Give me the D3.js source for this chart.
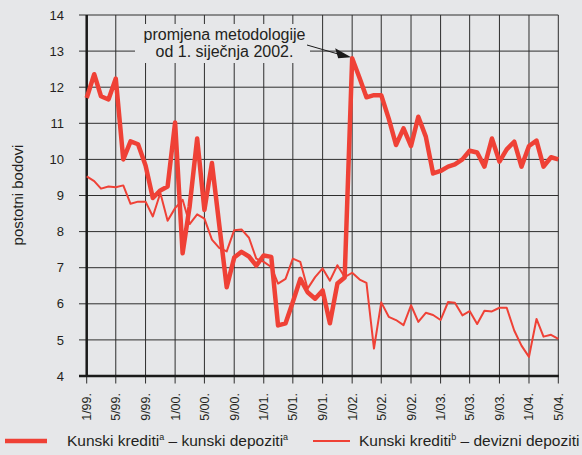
<!DOCTYPE html>
<html>
<head>
<meta charset="utf-8">
<script src="https://cdn.jsdelivr.net/npm/d3@7/dist/d3.min.js"></script>
<style>
  body { margin: 0; background: #e6e7e9; }
  svg { display: block; font-family: "Liberation Sans", Arial, sans-serif; }
</style>
</head>
<body>
<svg id="chart" width="582" height="455"></svg>
<script>
// monthly observations, 1/99 .. 5/04
var months = d3.timeMonth.range(new Date(1999, 0, 1), new Date(2004, 5, 1));

// Kunski krediti - kunski depoziti (thick line)
var kunKun = [11.7, 12.36, 11.75, 11.66, 12.24, 10.0, 10.5, 10.42, 9.83, 8.93, 9.14, 9.25,
  11.02, 7.4, 8.7, 10.58, 8.6, 9.9, 8.2, 6.46, 7.28, 7.44, 7.31, 7.06,
  7.34, 7.3, 5.4, 5.46, 6.05, 6.69, 6.32, 6.14, 6.37, 5.46, 6.56, 6.73,
  12.8, 12.25, 11.72, 11.78, 11.78, 11.13, 10.4, 10.86, 10.37, 11.18, 10.63, 9.61,
  9.68, 9.8, 9.86, 10.0, 10.24, 10.19, 9.8, 10.58, 9.94, 10.28, 10.49, 9.8,
  10.37, 10.52, 9.8, 10.06, 10.0];

// Kunski krediti - devizni depoziti (thin line)
var kunDev = [9.53, 9.4, 9.19, 9.25, 9.23, 9.28, 8.77, 8.83, 8.83, 8.42, 9.07, 8.3,
  8.65, 8.88, 8.21, 8.48, 8.36, 7.78, 7.55, 7.45, 8.04, 8.06, 7.83, 7.25,
  7.16, 7.02, 6.56, 6.69, 7.25, 7.16, 6.42, 6.74, 6.98, 6.64, 7.07, 6.74,
  6.86, 6.67, 6.58, 4.76, 6.04, 5.64, 5.55, 5.41, 5.96, 5.5, 5.75, 5.69,
  5.55, 6.05, 6.03, 5.68, 5.8, 5.44, 5.81, 5.79, 5.89, 5.89, 5.26, 4.84,
  4.53, 5.58, 5.09, 5.14, 5.03];

var xTickLabels = ["1/99.", "5/99.", "9/99.", "1/00.", "5/00.", "9/00.", "1/01.", "5/01.", "9/01.",
  "1/02.", "5/02.", "9/02.", "1/03.", "5/03.", "9/03.", "1/04.", "5/04."];
var yTicks = [4, 5, 6, 7, 8, 9, 10, 11, 12, 13, 14];

var red = "#ef4136";
var gridColor = "#2e2e2e";
var pLeft = 86.7, pRight = 558.3, pTop = 15, pBottom = 376;

var svg = d3.select("#chart");

var x = d3.scaleTime()
  .domain([months[0], months[months.length - 1]])
  .range([pLeft, pRight]);
var y = d3.scaleLinear().domain([4, 14]).range([pBottom, pTop]);

var tickDates = months.filter(function (d, i) { return i % 4 == 0; });

// horizontal grid + y ticks
svg.append("g")
  .selectAll("line")
  .data(yTicks)
  .enter()
  .append("line")
  .attr("x1", 79)
  .attr("x2", pRight)
  .attr("y1", function (d) { return y(d); })
  .attr("y2", function (d) { return y(d); })
  .attr("stroke", gridColor)
  .attr("stroke-width", 1);

// vertical grid + x ticks
svg.append("g")
  .selectAll("line")
  .data(tickDates)
  .enter()
  .append("line")
  .attr("x1", function (d) { return x(d); })
  .attr("x2", function (d) { return x(d); })
  .attr("y1", pTop)
  .attr("y2", 383.5)
  .attr("stroke", gridColor)
  .attr("stroke-width", 1);

// y labels
svg.append("g")
  .selectAll("text")
  .data(yTicks)
  .enter()
  .append("text")
  .attr("x", 64)
  .attr("y", function (d) { return y(d); })
  .attr("dy", "0.36em")
  .attr("text-anchor", "end")
  .style("font-size", "13px")
  .attr("fill", "#231f20")
  .text(function (d) { return d; });

// x labels, rotated
svg.append("g")
  .selectAll("text")
  .data(tickDates)
  .enter()
  .append("text")
  .attr("transform", function (d) { return "translate(" + x(d) + ",393) rotate(-90)"; })
  .attr("dy", "0.36em")
  .attr("text-anchor", "end")
  .style("font-size", "12.5px")
  .attr("fill", "#231f20")
  .text(function (d, i) { return xTickLabels[i]; });

// axes
svg.append("line")
  .attr("x1", pLeft).attr("x2", pLeft)
  .attr("y1", pTop).attr("y2", pBottom)
  .attr("stroke", "#1a1a1a").attr("stroke-width", 2.5);
svg.append("line")
  .attr("x1", 79).attr("x2", pRight + 0.5)
  .attr("y1", pBottom).attr("y2", pBottom)
  .attr("stroke", "#1a1a1a").attr("stroke-width", 2.5);

// y title
svg.append("text")
  .attr("transform", "translate(23,195) rotate(-90)")
  .attr("text-anchor", "middle")
  .style("font-size", "15px")
  .attr("fill", "#231f20")
  .text("postotni bodovi");

// annotation box covering grid
svg.append("rect")
  .attr("x", 135).attr("y", 24)
  .attr("width", 175).attr("height", 39)
  .attr("fill", "#e6e7e9");
svg.append("text")
  .attr("x", 224.5).attr("y", 39.5)
  .attr("text-anchor", "middle")
  .style("font-size", "16px")
  .attr("fill", "#231f20")
  .text("promjena metodologije");
svg.append("text")
  .attr("x", 224.5).attr("y", 57)
  .attr("text-anchor", "middle")
  .style("font-size", "16px")
  .attr("fill", "#231f20")
  .text("od 1. siječnja 2002.");

// arrow to 1/02 point
var ax = x(months[36]) - 1, ay = y(kunKun[36]) - 1;
svg.append("line")
  .attr("x1", 307).attr("y1", 45)
  .attr("x2", ax - 12).attr("y2", ay - 3)
  .attr("stroke", "#1a1a1a").attr("stroke-width", 1);
svg.append("path")
  .attr("d", "M" + ax + "," + ay + " L" + (ax - 16) + "," + (ay - 9) + " L" + (ax - 13) + "," + (ay + 1) + " Z")
  .attr("fill", "#1a1a1a");

// lines
var line = d3.line()
  .x(function (d, i) { return x(months[i]); })
  .y(function (d) { return y(d); });

svg.append("path")
  .attr("d", line(kunDev))
  .attr("fill", "none")
  .attr("stroke", red)
  .attr("stroke-width", 2)
  .attr("stroke-linejoin", "round");

svg.append("path")
  .attr("d", line(kunKun))
  .attr("fill", "none")
  .attr("stroke", red)
  .attr("stroke-width", 4.5)
  .attr("stroke-linejoin", "round");

// legend
var leg = svg.append("g");
leg.append("line")
  .attr("x1", 5).attr("x2", 47).attr("y1", 441).attr("y2", 441)
  .attr("stroke", red).attr("stroke-width", 4.5);
var t1 = leg.append("text")
  .attr("x", 67).attr("y", 446)
  .style("font-size", "15.5px")
  .attr("fill", "#231f20");
t1.append("tspan").text("Kunski krediti");
t1.append("tspan").attr("dy", -6).style("font-size", "9px").text("a");
t1.append("tspan").attr("dy", 6).text(" \u2013 kunski depoziti");
t1.append("tspan").attr("dy", -6).style("font-size", "9px").text("a");

leg.append("line")
  .attr("x1", 313).attr("x2", 350).attr("y1", 441).attr("y2", 441)
  .attr("stroke", red).attr("stroke-width", 2);
var t2 = leg.append("text")
  .attr("x", 359).attr("y", 446)
  .style("font-size", "15.5px")
  .attr("fill", "#231f20");
t2.append("tspan").text("Kunski krediti");
t2.append("tspan").attr("dy", -6).style("font-size", "9px").text("b");
t2.append("tspan").attr("dy", 6).text(" \u2013 devizni depoziti");
</script>
</body>
</html>
